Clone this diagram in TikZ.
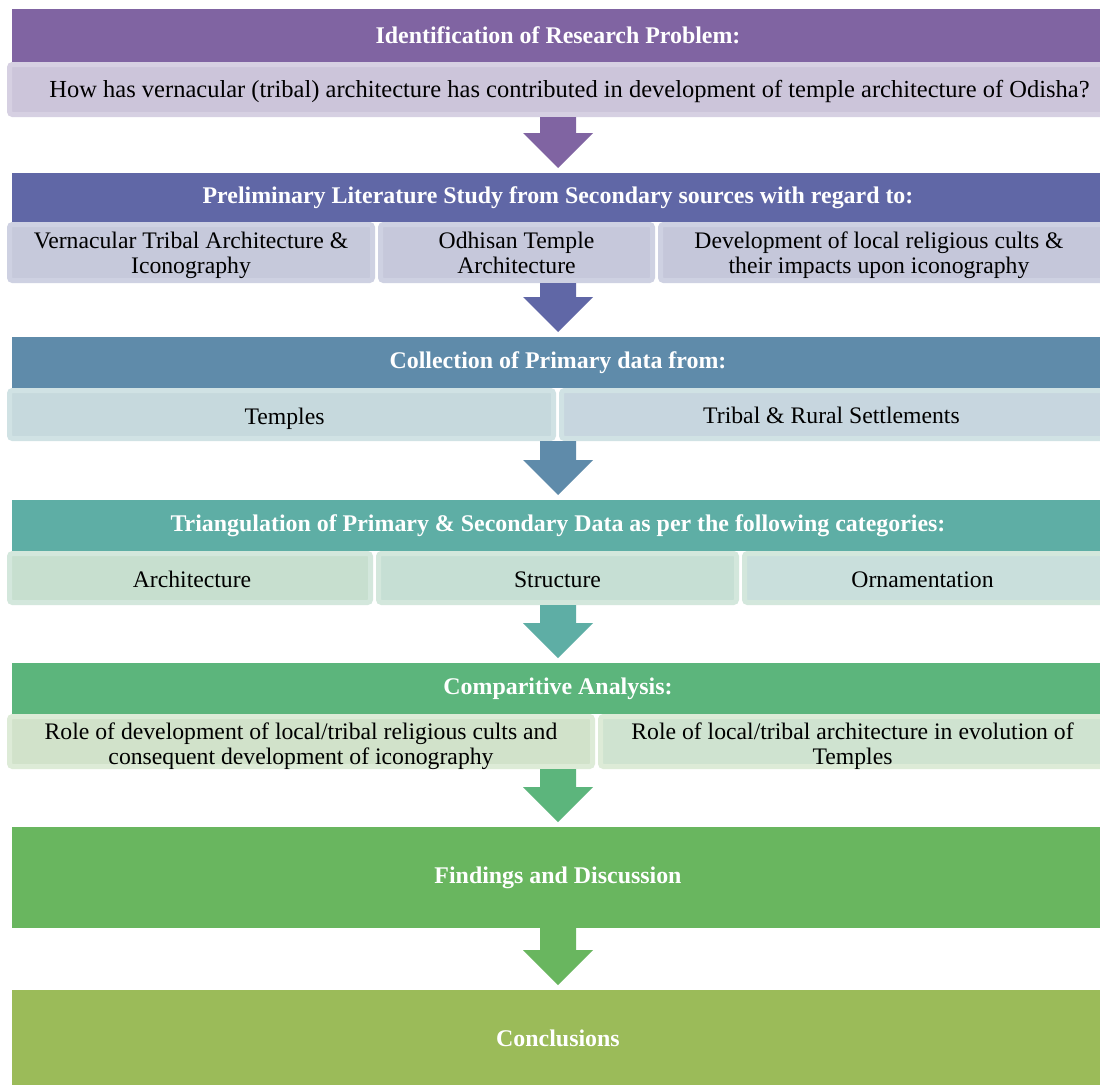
\documentclass[tikz,border=0pt]{standalone}
\usepackage{fontspec}
\setmainfont{Liberation Serif}
\usetikzlibrary{calc}
\newcommand\dn[1]{\rule[-7.5pt]{0pt}{\dimexpr 25pt+#1pt+#1pt\relax}}
\definecolor{hA}{HTML}{8064A2}\definecolor{hB}{HTML}{6067A6}\definecolor{hC}{HTML}{5F8BAA}
\definecolor{hD}{HTML}{5EAEA5}\definecolor{hE}{HTML}{5CB57C}\definecolor{hF}{HTML}{69B65F}
\definecolor{hG}{HTML}{9BBB59}
\definecolor{sA}{HTML}{CCC5DA}\definecolor{rA}{HTML}{D6D0E2}
\definecolor{sBa}{HTML}{C6C9DB}\definecolor{sBb}{HTML}{C6C8DB}\definecolor{sBc}{HTML}{C5C7DA}\definecolor{rB}{HTML}{CED1E2}
\definecolor{sCa}{HTML}{C6D9DD}\definecolor{sCb}{HTML}{C7D6DF}\definecolor{rC}{HTML}{D0E2E4}
\definecolor{sDa}{HTML}{C7DFCF}\definecolor{sDb}{HTML}{C6DFD4}\definecolor{sDc}{HTML}{C9DFDC}\definecolor{rD}{HTML}{D3E7DC}
\definecolor{sEa}{HTML}{D1E2CA}\definecolor{sEb}{HTML}{CFE3D0}\definecolor{rE}{HTML}{DDEBD7}
\begin{document}
\begin{tikzpicture}[x=1pt,y=-1pt,
  hdr/.style={fill=#1, draw=none, minimum width=1092pt, anchor=north west, inner sep=0pt, outer sep=0pt,
    text=white, font=\fontsize{23.9}{26}\selectfont\bfseries},
  sub/.style 2 args={fill=#1, draw=#2, line width=5pt, rounded corners=3pt, anchor=north west,
    inner sep=0pt, outer sep=0pt, align=center, text=black, font=\fontsize{23.7}{25}\selectfont},
  blockarrow/.style={to path={let \p1=(\tikztostart), \p2=(\tikztotarget) in
    (\x1-18pt,\y1) -- (\x1+18pt,\y1) -- (\x1+18pt,\y2+35pt) -- (\x1+35pt,\y2+35pt) -- (\x1,\y2)
    -- (\x1-35pt,\y2+35pt) -- (\x1-18pt,\y2+35pt) -- cycle}}]
\useasboundingbox (0,0) rectangle (1100,1084);
\clip (0,0) rectangle (1100,1084);
\fill[white] (0,0) rectangle (1100,1084);

% block 1
\node[hdr=hA, minimum height=53pt] (h1) at (12,9) {Identification of Research Problem:};
\node[sub={sA}{rA}, minimum width=1100pt, minimum height=50pt, font=\fontsize{24.5}{25}\selectfont] (s1) at (9.5,64.5)
  {\hspace*{20pt}\dn{3}How has vernacular (tribal) architecture has contributed in development of temple architecture of Odisha?};

% block 2
\node[hdr=hB, minimum height=49pt] (h2) at (12,173) {Preliminary Literature Study from Secondary sources with regard to:};
\node[sub={sBa}{rB}, minimum width=363pt, minimum height=56pt] (s2a) at (9.5,224.5)
  {\dn{3}Vernacular Tribal Architecture \&\\\strut Iconography};
\node[sub={sBb}{rB}, minimum width=272pt, minimum height=56pt] (s2b) at (380.5,224.5)
  {\dn{3}Odhisan Temple\\\strut Architecture};
\node[sub={sBc}{rB}, minimum width=450pt, minimum height=56pt] (s2c) at (660.5,224.5)
  {\hspace*{-13pt}\dn{3}Development of local religious cults \&\\\hspace*{-13pt}\strut their impacts upon iconography};

% block 3
\node[hdr=hC, minimum height=51pt] (h3) at (12,337) {Collection of Primary data from:};
\node[sub={sCa}{rC}, minimum width=544pt, minimum height=48pt] (s3a) at (9.5,390.5) {\hspace*{6pt}\dn{5}Temples};
\node[sub={sCb}{rC}, minimum width=550pt, minimum height=48pt] (s3b) at (561.5,390.5)
  {\hspace*{-10pt}\dn{4}Tribal \& Rural Settlements};

% block 4
\node[hdr=hD, minimum height=51pt] (h4) at (12,500) {Triangulation of Primary \& Secondary Data as per the following categories:};
\node[sub={sDa}{rD}, minimum width=361pt, minimum height=49pt] (s4a) at (9.5,553.5) {\hspace*{4pt}\dn{4}Architecture};
\node[sub={sDb}{rD}, minimum width=358pt, minimum height=49pt] (s4b) at (378.5,553.5) {\dn{4}Structure};
\node[sub={sDc}{rD}, minimum width=400pt, minimum height=49pt] (s4c) at (744.5,553.5)
  {\hspace*{-44pt}\dn{4}Ornamentation};

% block 5
\node[hdr=hE, minimum height=51pt] (h5) at (12,663) {Comparitive Analysis:};
\node[sub={sEa}{rE}, minimum width=583pt, minimum height=50pt, inner ysep=-5pt] (s5a) at (9.5,716.5)
  {\dn{5}Role of development of local/tribal religious cults and\\\strut consequent development of iconography};
\node[sub={sEb}{rE}, minimum width=550pt, minimum height=50pt, inner ysep=-5pt] (s5b) at (600.5,716.5)
  {\hspace*{-46pt}\dn{5}Role of local/tribal architecture in evolution of\\\hspace*{-46pt}\strut Temples};

% block 6, 7
\node[hdr=hF, minimum height=101pt] (h6) at (12,827) {\raisebox{-1pt}{Findings and Discussion}};
\node[hdr=hG, minimum height=100pt] (h7) at (12,990) {\raisebox{3pt}{Conclusions}};

% arrows
\path[fill=hA] ($(h2.north |- s1.south)+(0,2.5)$) to[blockarrow] ($(h2.north)+(0,-5)$);
\path[fill=hB] ($(h3.north |- s2b.south)+(0,2.5)$) to[blockarrow] ($(h3.north)+(0,-5)$);
\path[fill=hC] ($(h4.north |- s3a.south)+(0,2.5)$) to[blockarrow] ($(h4.north)+(0,-5)$);
\path[fill=hD] ($(h5.north |- s4b.south)+(0,2.5)$) to[blockarrow] ($(h5.north)+(0,-5)$);
\path[fill=hE] ($(h6.north |- s5a.south)+(0,2.5)$) to[blockarrow] ($(h6.north)+(0,-5)$);
\path[fill=hF] (h6.south) to[blockarrow] ($(h7.north)+(0,-5)$);
\end{tikzpicture}
\end{document}
